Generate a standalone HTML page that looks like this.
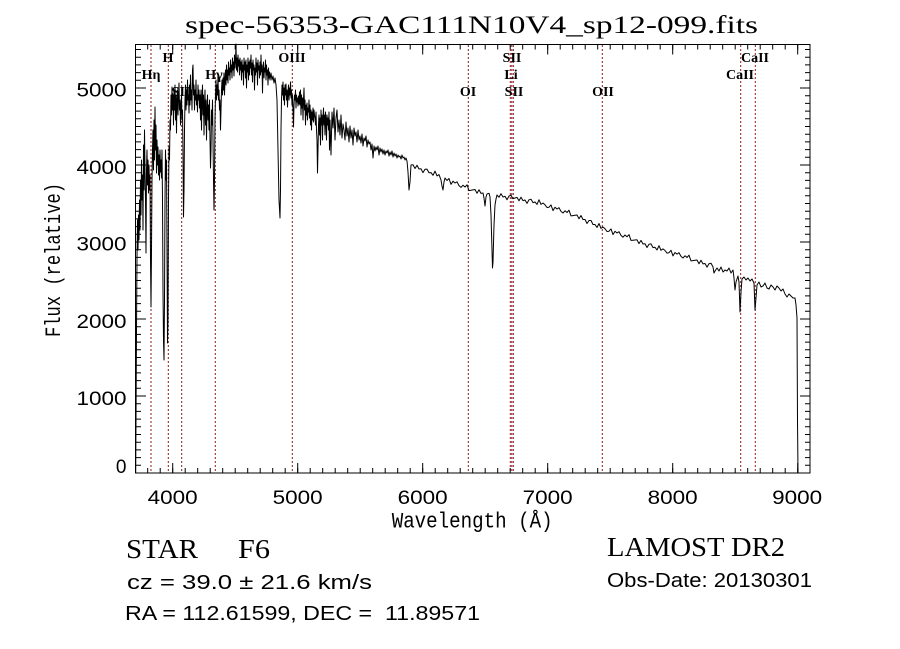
<!DOCTYPE html>
<html>
<head>
<meta charset="utf-8">
<style>
html,body{margin:0;padding:0;background:#fff;}
svg{display:block;}
text{fill:#000;}
.lbl{font-family:"Liberation Serif",serif;font-weight:bold;font-size:14px;text-anchor:middle;}
.tk{font-family:"Liberation Sans",sans-serif;font-size:19px;}
</style>
</head>
<body>
<svg width="900" height="649" viewBox="0 0 900 649" xmlns="http://www.w3.org/2000/svg">
<rect x="0" y="0" width="900" height="649" fill="#fff"/>

<!-- title -->
<text x="185" y="33" font-family="Liberation Serif, serif" font-size="25" textLength="573" lengthAdjust="spacingAndGlyphs">spec-56353-GAC111N10V4_sp12-099.fits</text>

<!-- red dotted line markers -->
<g stroke="rgb(139,26,26)" stroke-width="1" stroke-dasharray="2,2" fill="none">
<line x1="151" y1="45" x2="151" y2="473"/>
<line x1="168.3" y1="45" x2="168.3" y2="473"/>
<line x1="181.7" y1="45" x2="181.7" y2="473"/>
<line x1="215.3" y1="45" x2="215.3" y2="473"/>
<line x1="292.3" y1="45" x2="292.3" y2="473"/>
<line x1="468.3" y1="45" x2="468.3" y2="473"/>
<line x1="510.3" y1="45" x2="510.3" y2="473"/>
<line x1="511.8" y1="45" x2="511.8" y2="473"/>
<line x1="513.3" y1="45" x2="513.3" y2="473"/>
<line x1="602.3" y1="45" x2="602.3" y2="473"/>
<line x1="740.7" y1="45" x2="740.7" y2="473"/>
<line x1="755.3" y1="45" x2="755.3" y2="473"/>
</g>

<!-- line labels -->
<text class="lbl" x="151" y="79">Hη</text>
<text class="lbl" x="168" y="62">H</text>
<text class="lbl" x="181" y="96">SII</text>
<text class="lbl" x="214" y="79">Hγ</text>
<text class="lbl" x="292" y="62">OIII</text>
<text class="lbl" x="468" y="96">OI</text>
<text class="lbl" x="512" y="62">SII</text>
<text class="lbl" x="511" y="79">Li</text>
<text class="lbl" x="514" y="96">SII</text>
<text class="lbl" x="603" y="96">OII</text>
<text class="lbl" x="755" y="62">CaII</text>
<text class="lbl" x="740" y="79">CaII</text>

<!-- spectrum -->
<polyline fill="none" stroke="#000" stroke-width="1" stroke-linejoin="round" points="
135.7,473 136.2,383 136.5,330 137,257 137.5,220 138,250 138.5,215 139,240 139.5,200 140,230 140.5,180 141,215 141.5,160 142,200 142.5,175 143,230 143.5,145 144,190 144.5,130 145,170 145.5,200 146,253 146.5,170 147,150 147.5,185 148,160 148.5,193 149,165 149.5,190 150,175 150.5,260 151,307 151.5,250 152,180 152.5,150 153,130 153.5,170 154,120 154.5,160 155,107 155.5,150 156,125 156.5,173 157,140 157.5,165 158,147 158.5,175 159,155 159.5,180 160,150 160.5,172 161,160 161.5,178 162,150 162.5,200 163,290 163.5,340 164,360 164.5,300 165,200 165.5,150 166,180 166.5,160 167,250 167.5,343 168,320 168.5,200 169,147 169.5,160 170,120 170.5,130 171,95 171.5,115 172,87 172.5,110 173,95 173.5,125 174,90 174.5,110 175,85 175.5,120 176,95 176.5,133 177,100 177.5,90 178,115 178.5,95 179,83 179.5,110 180,100 180.5,125 181,105 181.5,95 182,120 182.5,110 183,150 183.5,217 184,190 184.5,130 185,100 185.5,85 186,110 186.5,90 187,105 187.5,80 188,100 188.5,95 189,113 189.5,85 190,105 190.5,75 191,100 191.5,90 192,110 192.5,70 193,65 193.5,95 194,85 194.5,110 195,90 195.5,100 196,80 196.5,105 197,95 197.5,112 198,85 198.5,100 199,90 199.5,108 200,95 200.5,120 201,90 201.5,130 202,100 202.5,85 203,115 203.5,95 204,135 204.5,105 205,90 205.5,125 206,100 206.5,140 207,110 207.5,95 208,120 208.5,105 209,130 209.5,100 210,140 210.5,168 211,150 211.5,110 212,125 212.5,100 213,140 213.5,180 214,210 214.5,180 215,120 215.5,95 216,80 216.5,100 217,85 217.5,95 218,75 218.5,100 219,90 219.5,110 220,100 220.5,130 221,110 221.5,90 222,80 222.5,95 223,78 223.5,90 224,73 224.5,95 225,80 225.5,70 226,85 226.5,65 227,80 227.5,70 228,83 228.5,62 229,75 229.5,68 230,80 230.5,60 231,72 231.5,65 232,78 232.5,58 233,70 233.5,62 234,76 234.5,55 235,68 235.5,60 236,44 236.5,70 237,58 237.5,72 238,55 238.5,66 239,60 239.5,75 240,58 240.5,70 241,62 241.5,80 242,60 242.5,72 243,65 243.5,85 244,58 244.5,70 245,62 245.5,78 246,60 246.5,88 247,65 247.5,72 248,58 248.5,80 249,62 249.5,75 250,60 250.5,68 251,55 251.5,75 252,63 252.5,82 253,60 253.5,70 254,65 254.5,90 255,68 255.5,75 256,58 256.5,72 257,63 257.5,85 258,60 258.5,70 259,66 259.5,78 260,62 260.5,75 261,55 261.5,72 262,65 262.5,93 263,70 263.5,62 264,78 264.5,68 265,72 265.5,60 266,80 266.5,65 267,75 267.5,70 268,85 268.5,68 269,78 269.5,72 270,80 271,73 272,80 273,76 274,83 275,78 276,85 277,100 278,150 279,200 280,218 280.5,190 281,130 281.5,100 282,85 282.5,95 283,82 283.5,100 284,88 284.5,105 285,85 285.5,95 286,84 286.5,100 287,90 287.5,107 288,92 288.5,85 289,100 289.5,88 290,95 290.5,82 291,98 291.5,90 292,105 292.5,95 293,110 293.5,127 294,105 294.5,95 295,100 295.5,90 296,108 296.5,95 297,102 297.5,98 298,106 298.5,96 299,104 299.5,92 300,105 300.5,90 301,115 301.5,95 302,108 302.5,98 303,120 303.5,100 304,88 304.5,110 305,100 305.5,125 306,105 306.5,115 307,103 307.5,120 308,108 308.5,112 309,100 309.5,118 310,105 310.5,125 311,110 311.5,130 312,112 312.5,120 313,108 313.5,122 314,110 314.5,115 315,118 315.5,125 316,112 316.5,130 317,140 317.5,173 318,150 318.5,125 319,115 319.5,135 320,118 320.5,145 321,110 321.5,125 322,115 322.5,140 323,118 323.5,108 324,125 324.5,115 325,135 325.5,112 326,120 326.5,140 327,115 327.5,125 328,118 328.5,130 329,112 329.5,150 
330,120 331,155 332,112 333,128 334,108 335,140 336,118 337,110 338,132 339,120 340,135 341,115 342,138 343,124 344,130 345,140 346,122 347,136 348,128 349,142 350,126 351,138 352,130 353,145 354,128 355,136 356,132 357,142 358,130 359,140 360,136 361,143 362,134 363,146 364,138 365,141 366,136 367,147 368,140 369,144 370,142 371,150 372,144 373,158 374,146 375,151 376,147 377,150 378,146 379,155 380,148 381,152 382,149 383,154 384,150 385,155 386,151 387,153 388,150 389,156 390,152 391,155 392,151 393,157 394,153 395,156 396,154 397,158 398,155 399,157 400,156 401,159 402,155 403,158 404,157 405,160 406,158 407,161 408,172 409,190 410,182 
411,165 413,164.8 415,168.5 417,165.3 419,169 421,168.8 423,172.6 425,169.3 427,169.1 429,172.8 431,172.6 433,175.3 435,171.1 437,175.9 439,174.6 441,180 442,186 443,190 444,182 445,178 447,180.5 449,178.5 451,184.4 453,181.2 455,183 457,181.8 459,185.6 461,187.4 463,185.2 465,187 467,184.8 469,190.6 471,190.3 473,189.9 475,189.5 477,193.2 479,189.8 481,193.4 483,193 484,198 485,206 486,197 487,194 489,193.3 490,197 491,215 492,250 492.5,268 493,262 494,225 495,205 496,199 497,195 499,197.3 501,193.7 503,197 505,196.3 507,199.7 509,196 511,195.3 513,198.7 
515,198 517,197.4 519,200.8 521,197.2 523,200.6 525,200 527,203.4 529,199.8 531,199.2 533,202.6 535,202 537,204.4 539,199.8 541,204.4 543,203 545,204.8 547,207.5 549,207.2 551,204.9 553,210.6 555,207.3 557,209 559,207.7 561,211.4 563,213 565,210.8 567,212.5 569,210.2 571,215.9 573,215.6 575,215.3 577,215 579,218.7 581,215.5 583,219.5 585,219.5 587,223.5 589,220.5 591,220.5 593,224.5 595,224.5 597,227.5 599,223.5 601,228.4 603,227 605,228.8 607,231.5 609,231.2 611,228.9 613,234.6 615,231.3 617,233 619,231.7 621,235.4 623,237.2 625,235 627,236.8 629,234.6 631,240.4 633,240.2 635,240 637,239.8 639,243.6 641,240.4 643,244 645,243.8 647,247.5 649,244.2 651,243.9 653,247.6 655,247.3 657,250 659,245.7 661,250.3 663,248.9 665,250.5 667,253.1 669,252.7 671,250.3 673,255.9 675,252.5 677,254.1 679,252.7 681,256.4 683,258 685,255.8 687,257.5 689,255.2 691,260.9 693,260.6 695,260.3 697,260 699,263.7 701,260.3 703,263.9 705,263.5 707,267.1 709,263.7 711,263.3 713,266.9 714,273 715,271 717,268 719,271 721,267 723,272 725,270 727,271 729,268 731,273 733,270 734,278 735,290 736,282 738,276 739,282 740,312 741,292 742,279 744,277 746,280 748,278 750,281 752,279 754,283 755,310 756,298 757,285 759,282 761,287 763,286 765,283 767,288 769,289 771,285 773,287 775,290 777,286 779,288 781,291 783,289 785,294 787,297 789,294 791,296 793,298 795,298 796,305 797,318 797.5,420 798,473"/>

<!-- frame -->
<rect x="135.5" y="44.5" width="674.5" height="428.5" fill="none" stroke="#000" stroke-width="1"/>

<!-- ticks -->
<g stroke="#000" fill="none">
<line x1="147.2" y1="470.5" x2="810" y2="470.5" stroke-width="5" stroke-dasharray="1,11.5"/>
<line x1="172.2" y1="468" x2="810" y2="468" stroke-width="10" stroke-dasharray="1,124"/>
<line x1="147.2" y1="47" x2="810" y2="47" stroke-width="5" stroke-dasharray="1,11.5"/>
<line x1="172.2" y1="49.5" x2="810" y2="49.5" stroke-width="10" stroke-dasharray="1,124"/>
<line x1="138.5" y1="473.5" x2="138.5" y2="44" stroke-width="5" stroke-dasharray="1,6.7"/>
<line x1="141" y1="473.5" x2="141" y2="44" stroke-width="10" stroke-dasharray="1,76"/>
<line x1="807.5" y1="473.5" x2="807.5" y2="44" stroke-width="5" stroke-dasharray="1,6.7"/>
<line x1="805" y1="473.5" x2="805" y2="44" stroke-width="10" stroke-dasharray="1,76"/>
</g>

<!-- y tick labels -->
<g class="tk" text-anchor="end">
<text x="126.5" y="96.7" textLength="50" lengthAdjust="spacingAndGlyphs">5000</text>
<text x="126.5" y="174" textLength="50" lengthAdjust="spacingAndGlyphs">4000</text>
<text x="126.5" y="250.7" textLength="50" lengthAdjust="spacingAndGlyphs">3000</text>
<text x="126.5" y="328" textLength="50" lengthAdjust="spacingAndGlyphs">2000</text>
<text x="126.5" y="405" textLength="50" lengthAdjust="spacingAndGlyphs">1000</text>
<text x="126.5" y="473">0</text>
</g>

<!-- x tick labels -->
<g class="tk">
<text x="147.7" y="504" textLength="50" lengthAdjust="spacingAndGlyphs">4000</text>
<text x="272.7" y="504" textLength="50" lengthAdjust="spacingAndGlyphs">5000</text>
<text x="397.7" y="504" textLength="50" lengthAdjust="spacingAndGlyphs">6000</text>
<text x="522.7" y="504" textLength="50" lengthAdjust="spacingAndGlyphs">7000</text>
<text x="647.7" y="504" textLength="50" lengthAdjust="spacingAndGlyphs">8000</text>
<text x="772.2" y="504" textLength="50" lengthAdjust="spacingAndGlyphs">9000</text>
</g>

<!-- axis titles -->
<text x="391.7" y="527.7" font-family="Liberation Mono, monospace" font-size="22" textLength="161" lengthAdjust="spacingAndGlyphs">Wavelength (Å)</text>
<text transform="translate(60,337) rotate(-90)" x="0" y="0" font-family="Liberation Mono, monospace" font-size="22" textLength="154" lengthAdjust="spacingAndGlyphs">Flux (relative)</text>

<!-- bottom info -->
<text x="126" y="558" font-family="Liberation Serif, serif" font-size="27" textLength="72" lengthAdjust="spacingAndGlyphs">STAR</text>
<text x="238" y="558" font-family="Liberation Serif, serif" font-size="27" textLength="32" lengthAdjust="spacingAndGlyphs">F6</text>
<text x="127" y="589" font-family="Liberation Sans, sans-serif" font-size="20" textLength="245" lengthAdjust="spacingAndGlyphs" style="white-space:pre">cz = 39.0 ± 21.6 km/s</text>
<text x="125" y="620" font-family="Liberation Sans, sans-serif" font-size="20" textLength="355" lengthAdjust="spacingAndGlyphs" style="white-space:pre">RA = 112.61599, DEC =  11.89571</text>
<text x="607" y="556" font-family="Liberation Serif, serif" font-size="27" textLength="178" lengthAdjust="spacingAndGlyphs" style="white-space:pre">LAMOST DR2</text>
<text x="607" y="587" font-family="Liberation Sans, sans-serif" font-size="20" textLength="205" lengthAdjust="spacingAndGlyphs">Obs-Date: 20130301</text>
</svg>
</body>
</html>
